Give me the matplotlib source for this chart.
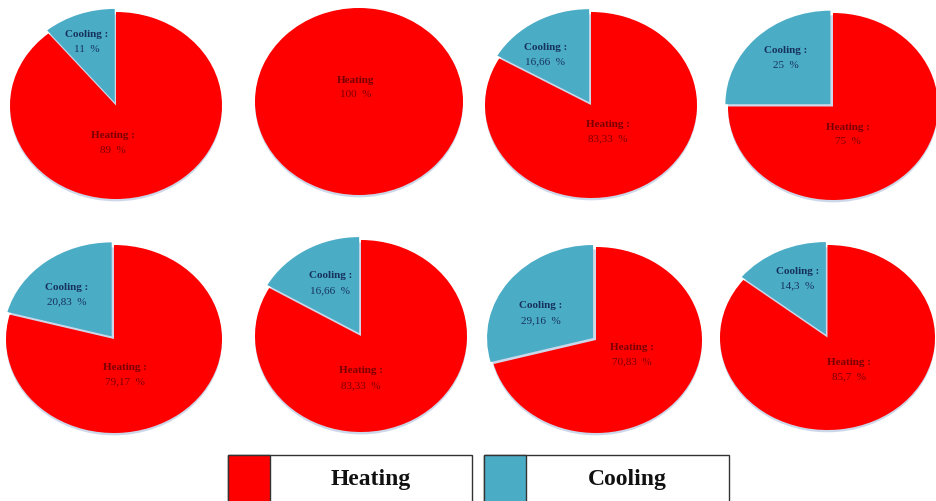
import matplotlib
matplotlib.use("Agg")
import matplotlib.pyplot as plt
from matplotlib.patches import Ellipse, Rectangle

# ---- data ----
categories = ["Heating", "Cooling"]
cooling = [11, 0, 16.66, 25, 20.83, 16.66, 29.16, 14.3]
heating = [89, 100, 83.33, 75, 79.17, 83.33, 70.83, 85.7]
cooling_txt = ["11", "0", "16,66", "25", "20,83", "16,66", "29,16", "14,3"]
heating_txt = ["89", "100", "83,33", "75", "79,17", "83,33", "70,83", "85,7"]

RED = "#FF0000"
BLUE = "#4BACC6"
W, H = 936, 501

# ---- layout ----
# pixel bounding boxes of each pie (x0, y0, x1, y1)
boxes = [(10, 12, 222, 199), (255, 8, 463, 195), (485, 12, 697, 198), (728, 13, 938, 200),
         (6, 245, 222, 433), (255, 240, 467, 432), (490, 247, 702, 433), (720, 245, 935, 430)]
# label anchor positions in pie (radius) units
cool_pos = [(-0.28, 0.68), None, (-0.43, 0.54), (-0.45, 0.52),
            (-0.44, 0.47), (-0.29, 0.55), (-0.52, 0.29), (-0.28, 0.64)]
heat_pos = [(-0.03, -0.40), (-0.03, 0.15), (0.16, -0.29), (0.14, -0.30),
            (0.10, -0.38), (0.00, -0.44), (0.34, -0.16), (0.20, -0.35)]

plt.rcParams['font.family'] = ['Liberation Serif', 'DejaVu Serif']
fig = plt.figure(figsize=(W / 100, H / 100), dpi=100)
fig.patch.set_facecolor("white")


def px_axes(x0, y0, x1, y1):
    return fig.add_axes([x0 / W, 1 - y1 / H, (x1 - x0) / W, (y1 - y0) / H])


FS = 8
LS = 0.078
for i, (c, h) in enumerate(zip(cooling, heating)):
    ax = px_axes(*boxes[i])
    # soft shadow
    ax.add_patch(Ellipse((0.0, -0.025), 2.0, 2.0, color="#8fa8cf", alpha=0.45, lw=0,
                         zorder=0, clip_on=False))
    wedges, _ = ax.pie([c, h], colors=[BLUE, RED], startangle=90, counterclock=True,
                       explode=[0.035, 0], radius=1.0, normalize=True,
                       wedgeprops=dict(linewidth=0, clip_on=False), frame=True)
    ax.set_xlim(-1.0, 1.0)
    ax.set_ylim(-1.0, 1.0)
    ax.set_aspect("auto")
    ax.axis("off")
    if c > 0:
        cx, cy = cool_pos[i]
        ax.text(cx, cy + LS, "Cooling :", ha="center", va="center", fontsize=FS,
                fontweight="bold", color="#16325C")
        ax.text(cx, cy - LS, cooling_txt[i] + "  %", ha="center", va="center", fontsize=FS,
                color="#16325C")
        head = "Heating :"
    else:
        head = "Heating"
    hx, hy = heat_pos[i]
    ax.text(hx, hy + LS, head, ha="center", va="center", fontsize=FS,
            fontweight="bold", color="#7A0000")
    ax.text(hx, hy - LS, heating_txt[i] + "  %", ha="center", va="center", fontsize=FS,
            color="#7A0000")

# ---- legend ----
lax = fig.add_axes([0, 0, 1, 1])
lax.set_xlim(0, W)
lax.set_ylim(H, 0)
lax.axis("off")
legend_boxes = [(228, 472), (484, 729)]
for (x0, x1), name, col in zip(legend_boxes, categories, [RED, BLUE]):
    lax.add_patch(Rectangle((x0, 455), x1 - x0, 60, facecolor="white", edgecolor="#333333", lw=1.0))
    lax.add_patch(Rectangle((x0, 455), 42, 60, facecolor=col, edgecolor="#333333", lw=1.0))
    lax.text((x0 + 42 + x1) / 2, 479, name, ha="center", va="center", fontsize=17,
             fontweight="bold", color="#111111")

fig.savefig("out.png", dpi=100, facecolor="white")
